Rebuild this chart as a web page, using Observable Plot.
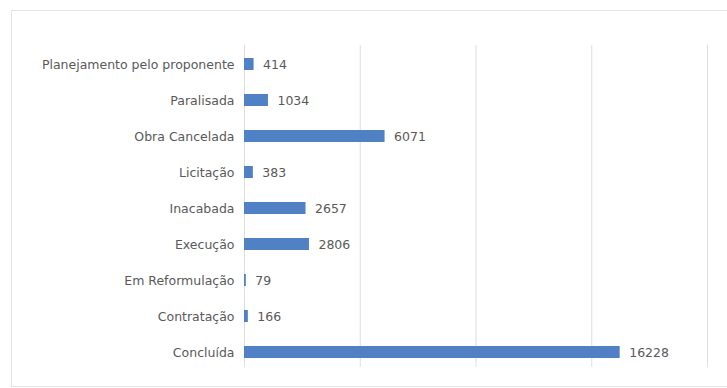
<!DOCTYPE html>
<html><head><meta charset="utf-8">
<script src="https://cdn.jsdelivr.net/npm/d3@7"></script>
<script src="https://cdn.jsdelivr.net/npm/@observablehq/plot@0.6"></script>
<style>
html,body{margin:0;padding:0;background:#fff;}
#wrap{position:relative;width:727px;height:388px;overflow:hidden;}
#box{position:absolute;left:11px;top:10px;width:730px;height:377px;border:1px solid #e3e3e3;box-sizing:border-box;}
#chart{position:absolute;left:0;top:0;}
</style></head>
<body><div id="wrap"><div id="box"></div><div id="chart"></div></div>
<script>
const categories = ["Planejamento pelo proponente","Paralisada","Obra Cancelada","Licitação","Inacabada","Execução","Em Reformulação","Contratação","Concluída"];
const values = [414,1034,6071,383,2657,2806,79,166,16228];
const gridTicks = [0,5000,10000,15000,20000];

const data = categories.map((c,i)=>({cat:c, value:values[i]}));
const font = "'DejaVu Sans', sans-serif";
const plot = Plot.plot({
  width:727, height:388,
  marginLeft:244, marginRight:20, marginTop:45, marginBottom:17,
  style:{fontFamily:font, fontSize:"12.5px", color:"#595959", background:"transparent"},
  x:{domain:[0,20000], axis:null},
  y:{domain:categories, paddingInner:0.655, paddingOuter:0.33, axis:null},
  marks:[
    Plot.ruleX(gridTicks,{stroke:"#dedede", strokeWidth:1, insetBottom:4}),
    Plot.barX(data,{y:"cat", x:"value", fill:"#4f81c4"}),
    Plot.text(data,{y:"cat", x:"value", text:d=>String(d.value), textAnchor:"start", dx:9, fill:"#595959", fontSize:12.5}),
    Plot.axisY({tickSize:0, tickPadding:10, fontSize:12.5, fill:"#595959", label:null})
  ]
});
document.getElementById("chart").appendChild(plot);
</script></body></html>
